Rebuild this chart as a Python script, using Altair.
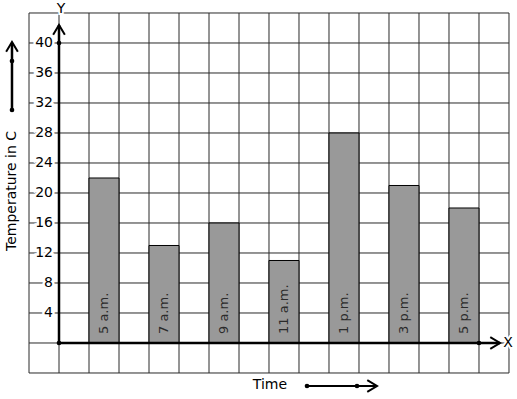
import altair as alt
import pandas as pd

categories = ["5 a.m.", "7 a.m.", "9 a.m.", "11 a.m.", "1 p.m.", "3 p.m.", "5 p.m."]
temps = [22, 13, 16, 11, 28, 21, 18]
tick_values = [4, 8, 12, 16, 20, 24, 28, 32, 36, 40]

FONT = "DejaVu Sans"
xs = alt.Scale(domain=[-1.9667, 15.2667], nice=False, zero=False)
ys = alt.Scale(domain=[-7.4667, 45.7333], nice=False, zero=False)

def X(f, **k):
    return alt.X(f, type="quantitative", scale=xs, axis=None, **k)

def Y(f, **k):
    return alt.Y(f, type="quantitative", scale=ys, axis=None, **k)

# grid
vgrid = pd.DataFrame({"u": list(range(-1, 16)), "y0": -4, "y1": 44})
hgrid = pd.DataFrame({"v": list(range(-4, 45, 4)), "x0": -1, "x1": 15})
vlines = alt.Chart(vgrid).mark_rule(color="#2a2a2a", strokeWidth=1).encode(
    x=X("u"), y=Y("y0"), y2="y1")
hlines = alt.Chart(hgrid).mark_rule(color="#2a2a2a", strokeWidth=1).encode(
    y=Y("v"), x=X("x0"), x2="x1")

# bars
bars_df = pd.DataFrame({
    "cat": categories,
    "temp": temps,
    "start": [2 * i + 1 for i in range(len(categories))],
})
bars_df["end"] = bars_df["start"] + 1
bars_df["mid"] = bars_df["start"] + 0.5
bars_df["base"] = 0
bars_df["lab_y"] = 1.2
bars = alt.Chart(bars_df).mark_rect(color="#999999", stroke="black", strokeWidth=1).encode(
    x=X("start"), x2="end", y=Y("base"), y2="temp")
bar_labels = alt.Chart(bars_df).mark_text(
    angle=270, align="left", baseline="middle", font=FONT, fontSize=13, color="#2b2b2b"
).encode(x=X("mid"), y=Y("lab_y"), text="cat:N")

# axes lines
yaxis = alt.Chart(pd.DataFrame({"u": [0], "a": [0], "b": [42.4]})).mark_rule(
    color="black", strokeWidth=2.5).encode(x=X("u"), y=Y("a"), y2="b")
xaxis = alt.Chart(pd.DataFrame({"v": [0], "a": [0], "b": [14.7]})).mark_rule(
    color="black", strokeWidth=2.5).encode(y=Y("v"), x=X("a"), x2="b")

up_shape = "M-0.6,1L0,0L0.6,1"
right_shape = "M-1,-0.6L0,0L-1,0.6"
y_arrow = alt.Chart(pd.DataFrame({"u": [0, -1.567], "v": [42.4, 40.13]})).mark_point(
    shape=up_shape, size=380, filled=False, color="black", strokeWidth=2, opacity=1
).encode(x=X("u"), y=Y("v"))
x_arrow = alt.Chart(pd.DataFrame({"u": [14.7, 10.6], "v": [0, -5.733]})).mark_point(
    shape=right_shape, size=380, filled=False, color="black", strokeWidth=2, opacity=1
).encode(x=X("u"), y=Y("v"))

dots = alt.Chart(pd.DataFrame({
    "u": [0, 0, 14, -1.567, -1.567, 8.267, 9.933],
    "v": [0, 40, 0, 31.07, 37.6, -5.733, -5.733],
})).mark_point(shape="circle", size=22, filled=True, color="black", opacity=1).encode(
    x=X("u"), y=Y("v"))

# side arrows
temp_arrow = alt.Chart(pd.DataFrame({"u": [-1.567], "a": [31.07], "b": [40.0]})).mark_rule(
    color="black", strokeWidth=2.5).encode(x=X("u"), y=Y("a"), y2="b")
time_arrow = alt.Chart(pd.DataFrame({"v": [-5.733], "a": [8.267], "b": [10.55]})).mark_rule(
    color="black", strokeWidth=2).encode(y=Y("v"), x=X("a"), x2="b")

# tick labels with white halo
ticks_df = pd.DataFrame({"v": tick_values, "u": -0.2, "t": [str(t) for t in tick_values]})
tick_halo = alt.Chart(ticks_df).mark_text(
    align="right", baseline="middle", font=FONT, fontSize=14, color="white",
    stroke="white", strokeWidth=5).encode(x=X("u"), y=Y("v"), text="t:N")
tick_text = alt.Chart(ticks_df).mark_text(
    align="right", baseline="middle", font=FONT, fontSize=14, color="black"
).encode(x=X("u"), y=Y("v"), text="t:N")

letters_df = pd.DataFrame({"u": [0.07, 14.97], "v": [44.5, 0], "t": ["Y", "X"]})
letter_halo = alt.Chart(letters_df).mark_text(
    align="center", baseline="middle", font=FONT, fontSize=14, color="white",
    stroke="white", strokeWidth=4).encode(x=X("u"), y=Y("v"), text="t:N")
letter_text = alt.Chart(letters_df).mark_text(
    align="center", baseline="middle", font=FONT, fontSize=14, color="black"
).encode(x=X("u"), y=Y("v"), text="t:N")

ytitle = alt.Chart(pd.DataFrame({"u": [-1.567], "v": [20.27], "t": ["Temperature in C"]})).mark_text(
    angle=270, align="center", baseline="middle", font=FONT, fontSize=14, color="black"
).encode(x=X("u"), y=Y("v"), text="t:N")
xtitle = alt.Chart(pd.DataFrame({"u": [7.03], "v": [-5.6], "t": ["Time"]})).mark_text(
    align="center", baseline="middle", font=FONT, fontSize=14, color="black"
).encode(x=X("u"), y=Y("v"), text="t:N")

chart = alt.layer(
    vlines, hlines, bars, bar_labels, yaxis, xaxis, y_arrow, x_arrow,
    temp_arrow, time_arrow, dots, tick_halo, tick_text, letter_halo, letter_text,
    ytitle, xtitle,
).properties(
    width=517, height=399, autosize=alt.AutoSizeParams(type="none"), padding=0,
    background="white",
).configure_view(stroke=None)

chart.save("out.html", embed_options={"renderer": "svg", "actions": False})
